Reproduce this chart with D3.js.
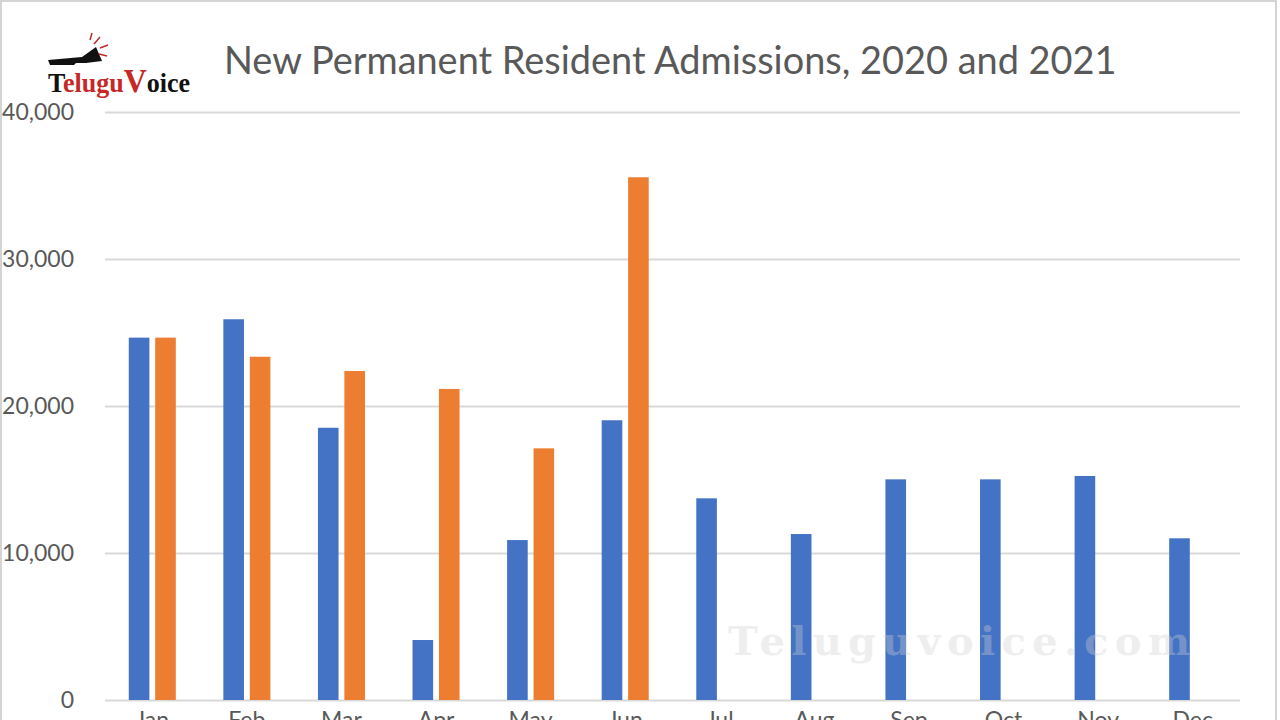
<!DOCTYPE html>
<html>
<head>
<meta charset="utf-8">
<script src="https://cdn.jsdelivr.net/npm/d3@7"></script>
<style>
  body { margin: 0; background: #fff; overflow: hidden; }
  svg { display: block; }
</style>
</head>
<body>
<script>
// ---- data ----
var months = ["Jan", "Feb", "Mar", "Apr", "May", "Jun", "Jul", "Aug", "Sep", "Oct", "Nov", "Dec"];
var series = ["2020", "2021"];
var values2020 = [24650, 25900, 18520, 4080, 10880, 19030, 13720, 11290, 15010, 15010, 15240, 11000];
var values2021 = [24650, 23350, 22380, 21160, 17120, 35560, null, null, null, null, null, null];
var yTicks = [0, 10000, 20000, 30000, 40000];
var colors = { "2020": "#4472c4", "2021": "#ed7d31" };

var W = 1280, H = 720;
var margin = { left: 105, right: 40, top: 112, bottom: 20 };
var width = W - margin.left - margin.right,
    height = H - margin.top - margin.bottom;

var root = d3.select("body").append("svg")
    .attr("width", W)
    .attr("height", H);

// picture frame
root.append("rect")
    .attr("x", 1).attr("y", 1)
    .attr("width", W - 5).attr("height", H + 10)
    .attr("fill", "none")
    .attr("stroke", "#d4d4d4")
    .attr("stroke-width", 2);

var svg = root.append("g")
    .attr("transform", "translate(" + margin.left + "," + margin.top + ")");

var data = months.map(function(m, i) {
    return { month: m, vals: [ { key: "2020", v: values2020[i] }, { key: "2021", v: values2021[i] } ] };
});

// scales
var x0 = d3.scaleBand().domain(months).range([0, width]).padding(0);
var x1 = d3.scaleBand().domain(series).range([0, x0.bandwidth()])
    .paddingInner(0.22).paddingOuter(0.9);
var y = d3.scaleLinear().domain([0, 40000]).range([height, 0]);

// gridlines
svg.append("g")
    .attr("class", "grid")
    .call(d3.axisLeft(y).tickValues(yTicks).tickSize(-width).tickFormat(""))
    .call(function(g) {
        g.select(".domain").remove();
        g.selectAll("line").attr("stroke", "#d9d9d9").attr("stroke-width", 2.2);
    });

// y tick labels
svg.append("g")
    .call(d3.axisLeft(y).tickValues(yTicks).tickSize(0).tickPadding(31).tickFormat(d3.format(",")))
    .call(function(g) {
        g.select(".domain").remove();
        g.selectAll("text")
            .attr("fill", "#595959")
            .style("font-family", "Lato, 'Open Sans', sans-serif")
            .style("font-size", "23px");
    });

// bars
var groups = svg.selectAll(".month")
    .data(data)
    .join("g")
    .attr("class", "month")
    .attr("transform", function(d) { return "translate(" + x0(d.month) + ",0)"; });

groups.selectAll("rect")
    .data(function(d) { return d.vals.filter(function(e) { return e.v != null; }); })
    .join("rect")
    .attr("x", function(d) { return x1(d.key); })
    .attr("width", x1.bandwidth())
    .attr("y", function(d) { return y(d.v); })
    .attr("height", function(d) { return y(0) - y(d.v); })
    .attr("fill", function(d) { return colors[d.key]; });

// x axis labels (cut off by bottom edge like the picture)
svg.append("g")
    .attr("transform", "translate(0," + height + ")")
    .call(d3.axisBottom(x0).tickSize(0).tickPadding(12))
    .call(function(g) {
        g.select(".domain").remove();
        g.selectAll("text")
            .attr("fill", "#595959")
            .style("font-family", "Lato, 'Open Sans', sans-serif")
            .style("font-size", "23px");
    });

// title
var title = root.append("text")
    .attr("x", 224)
    .attr("y", 74)
    .attr("fill", "#595959")
    .style("font-family", "Lato, 'Open Sans', sans-serif")
    .style("font-size", "30px")
    .text("New Permanent Resident Admissions, 2020 and 2021");
var tw = title.node().getComputedTextLength();
title.style("font-size", (30 * 893 / tw) + "px");

// logo
var logo = root.append("g").attr("transform", "translate(46,92)");
logo.append("path")
    .attr("d", "M2,-32 L36,-35 L50,-45 L56,-31 L40,-29 L30,-29 L28,-27 L4,-27 Z")
    .attr("fill", "#111");
logo.append("path")
    .attr("d", "M48,-48 L54,-55 M54,-44 L62,-47 M53,-38 L61,-36 M44,-52 L46,-59")
    .attr("stroke", "#c62828").attr("stroke-width", 1.5).attr("fill", "none");
var lt = logo.append("text")
    .attr("x", 2).attr("y", 0)
    .style("font-family", "'Liberation Serif', serif")
    .style("font-weight", "bold")
    .style("font-size", "27px")
    .attr("textLength", 142)
    .attr("lengthAdjust", "spacingAndGlyphs");
lt.append("tspan").attr("fill", "#111").text("T");
lt.append("tspan").attr("fill", "#c62828").text("elugu");
lt.append("tspan").attr("fill", "#c62828").style("font-size", "33px").text("V");
lt.append("tspan").attr("fill", "#111").text("oice");

// watermark
root.append("text")
    .attr("x", 728)
    .attr("y", 655)
    .attr("fill", "#d0d0d0")
    .attr("opacity", 0.35)
    .style("font-family", "'DejaVu Serif', serif")
    .style("font-weight", "bold")
    .style("font-size", "40px")
    .attr("textLength", 462)
    .attr("lengthAdjust", "spacing")
    .text("Teluguvoice.com");
</script>
</body>
</html>
